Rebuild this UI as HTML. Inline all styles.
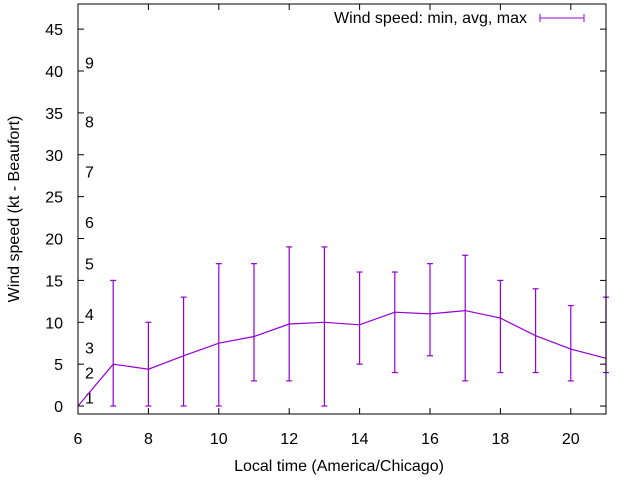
<!DOCTYPE html>
<html><head><meta charset="utf-8"><style>
html,body{margin:0;padding:0;background:#fff;}
svg{display:block;font-family:"Liberation Sans",sans-serif;}
</style></head><body>
<svg id="chart" width="640" height="480" viewBox="0 0 640 480">
<g id="grid"></g>
<g id="series"></g>
<rect x="78" y="4" width="528" height="410" fill="none" stroke="#000" stroke-width="1"/>
<text x="339" y="471" font-size="16" text-anchor="middle">Local time (America/Chicago)</text>
<text transform="translate(19,209) rotate(-90)" font-size="16" text-anchor="middle">Wind speed (kt - Beaufort)</text>
<g>
<text x="527" y="23" font-size="16" text-anchor="end">Wind speed: min, avg, max</text>
<line x1="540" y1="18" x2="584" y2="18" stroke="#9400d3"/>
<line x1="540" y1="14" x2="540" y2="22" stroke="#9400d3"/>
<line x1="584" y1="14" x2="584" y2="22" stroke="#9400d3"/>
</g>
</svg>
<script>
const hours = [6,7,8,9,10,11,12,13,14,15,16,17,18,19,20,21];
const avgSpeed = [0,5,4.4,6,7.5,8.3,9.8,10,9.7,11.2,11,11.4,10.5,8.4,6.8,5.7];
const minSpeed = [0,0,0,0,0,3,3,0,5,4,6,3,4,4,3,4];
const maxSpeed = [0,15,10,13,17,17,19,19,16,16,17,18,15,14,12,13];
const xTicks = [6,8,10,12,14,16,18,20];
const yTicks = [0,5,10,15,20,25,30,35,40,45];
const beaufortLevels = [1,2,3,4,5,6,7,8,9];
const beaufortKt = [1,4,7,11,17,22,28,34,41];

const NS = "http://www.w3.org/2000/svg";
const X0=78, X1=606, Y0=414, Y1=4, XMIN=6, XMAX=21, YMIN=-0.95, YMAX=48;
function sx(v){return X0+(v-XMIN)/(XMAX-XMIN)*(X1-X0);}
function sy(v){return Y0-(v-YMIN)/(YMAX-YMIN)*(Y0-Y1);}
function mk(tag, attrs, parent){const e=document.createElementNS(NS,tag);for(const k in attrs)e.setAttribute(k,attrs[k]);parent.appendChild(e);return e;}
const grid=document.getElementById('grid'), series=document.getElementById('series');

yTicks.forEach(v=>{
  const y=sy(v);
  let t=mk('line',{x1:X0,y1:y,x2:X0+6,y2:y,stroke:'#000'},grid);
  
  
  let t2=mk('line',{x1:X1-6,y1:y,x2:X1,y2:y,stroke:'#000'},grid);
  
  
  let l=mk('text',{x:X0-15,y:y+6,'font-size':16,'text-anchor':'end'},grid);
  l.textContent=v;
  
  
});
xTicks.forEach(v=>{
  const x=sx(v);
  let t=mk('line',{x1:x,y1:Y0,x2:x,y2:Y0-6,stroke:'#000'},grid);
  
  
  let t2=mk('line',{x1:x,y1:Y1,x2:x,y2:Y1+6,stroke:'#000'},grid);
  
  
  let l=mk('text',{x:x,y:Y0+30,'font-size':16,'text-anchor':'middle'},grid);
  l.textContent=v;
  
  
});
beaufortLevels.forEach((b,i)=>{
  let l=mk('text',{x:85,y:sy(beaufortKt[i])+6,'font-size':16},grid);
  l.textContent=b;
  
  
});
const pts=hours.map((h,i)=>sx(h).toFixed(1)+','+sy(avgSpeed[i]).toFixed(1)).join(' ');
let pl=mk('polyline',{points:pts,fill:'none',stroke:'#9400d3','stroke-width':1.2},series);


hours.forEach((h,i)=>{
  if(maxSpeed[i]===minSpeed[i]) return;
  const x=sx(h), y1=sy(minSpeed[i]), y2=sy(maxSpeed[i]);
  const g=mk('g',{stroke:'#9400d3','stroke-width':1.2},series);
  
  
  mk('line',{x1:x,y1:y1,x2:x,y2:y2},g);
  mk('line',{x1:x-3,y1:y1,x2:x+3,y2:y1},g);
  mk('line',{x1:x-3,y1:y2,x2:x+3,y2:y2},g);
});
</script>
</body></html>
